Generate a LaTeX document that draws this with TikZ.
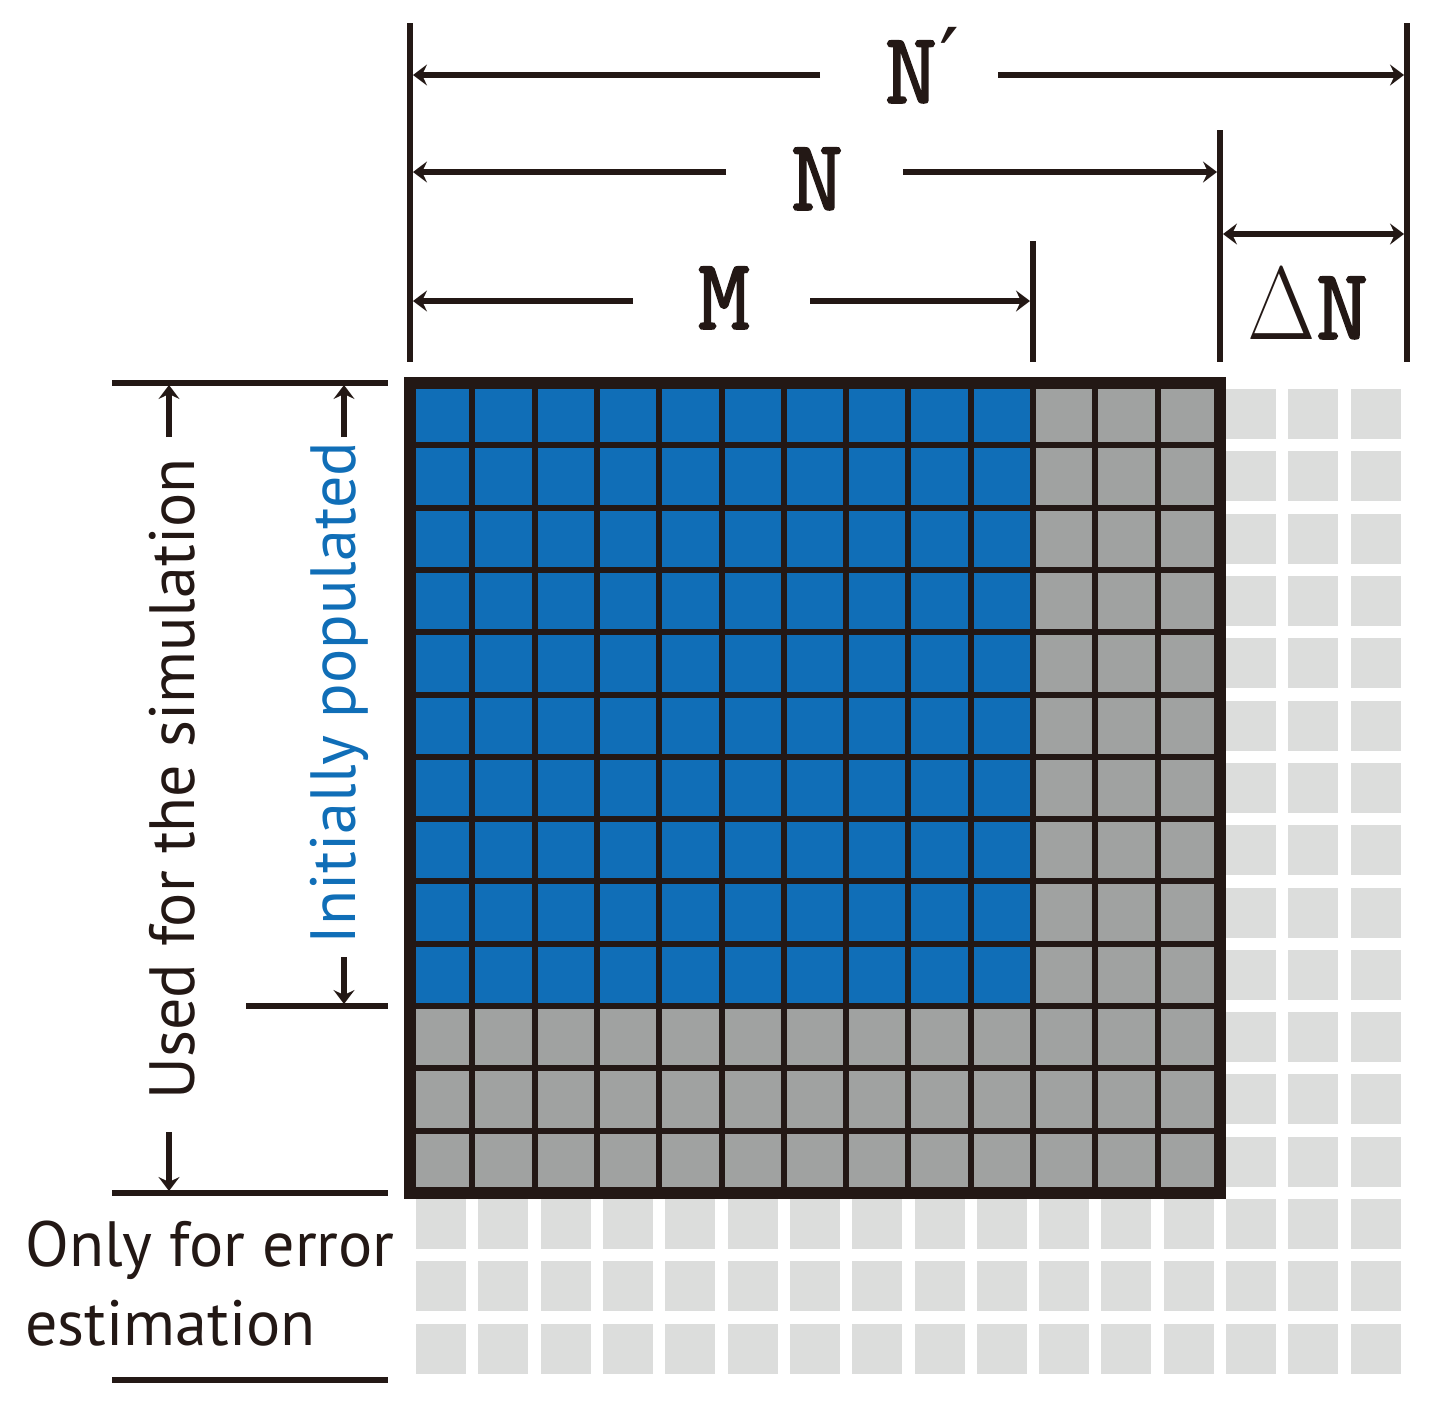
\documentclass[tikz,border=0pt]{standalone}
\usepackage{fontspec}
\usepackage{graphicx}
\usetikzlibrary{arrows.meta}
\newfontfamily\lblfont{PT Sans}
\newfontfamily\dimfont{Latin Modern Mono}[FakeBold=1.6]
\newfontfamily\deltafont{Latin Modern Roman}
\newfontfamily\primefont{DejaVu Sans}
\definecolor{inkdark}{HTML}{231815}
\definecolor{cellblue}{HTML}{106EB7}
\definecolor{cellgray}{HTML}{A0A2A1}
\definecolor{celllight}{HTML}{DCDDDC}
\tikzset{
  dimline/.style={line width=3.4pt, draw=inkdark},
  dimarrow/.style={line width=3pt, draw=inkdark, -{Stealth[length=7pt,width=10.5pt,inset=2.5pt]}},
  gridline/.style={line width=3pt, draw=inkdark},
  gridborder/.style={line width=6pt, draw=inkdark, line join=miter},
  dimlabel/.style={font=\dimfont\fontsize{51}{51}\selectfont, text=inkdark, inner sep=0pt, anchor=base},
  sidelabel/.style={font=\lblfont\fontsize{32}{39.5}\selectfont, inner sep=0pt},
}
\begin{document}
\begin{tikzpicture}[x=0.5pt,y=-0.5pt]
\useasboundingbox (0,0) rectangle (1439,1426);
\def\p{62.3}
% light cells (16 x 16)
\foreach \i in {0,...,15}{
  \foreach \j in {0,...,15}{
    \fill[celllight] ({410+\p*(\i+0.5)-25},{383+\p*(\j+0.5)-25}) rectangle ++(50,50);
  }
}
% main grid
\fill[cellgray] (410,383) rectangle ({410+13*\p},{383+13*\p});
\fill[cellblue] (410,383) rectangle ({410+10*\p},{383+10*\p});
\foreach \k in {1,...,12}{
  \draw[gridline] ({410+\k*\p},383) -- ({410+\k*\p},{383+13*\p});
  \draw[gridline] (410,{383+\k*\p}) -- ({410+13*\p},{383+\k*\p});
}
\draw[gridborder] (410,383) rectangle ({410+13*\p},{383+13*\p});

% top extension lines
\draw[dimline] (410,23) -- (410,362);
\draw[dimline] (1407,23) -- (1407,362);
\draw[dimline] (1220,130) -- (1220,362);
\draw[dimline] (1033,241) -- (1033,362);

% N'
\coordinate (npL) at (413,75); \coordinate (npLa) at (820,75);
\coordinate (npR) at (1404,75); \coordinate (npRa) at (998,75);
\draw[dimarrow] (npLa) -- (npL);
\draw[dimarrow] (npRa) -- (npR);
\node[dimlabel] (lblNp) at (922,103) {N\kern1pt\raisebox{6pt}{\primefont\fontsize{44}{44}\selectfont ′}};
% N
\coordinate (nL) at (413,172); \coordinate (nLa) at (726,172);
\coordinate (nR) at (1217,172); \coordinate (nRa) at (903,172);
\draw[dimarrow] (nLa) -- (nL);
\draw[dimarrow] (nRa) -- (nR);
\node[dimlabel] (lblN) at (817,210) {N};
% M
\coordinate (mL) at (413,301); \coordinate (mLa) at (633,301);
\coordinate (mR) at (1030,301); \coordinate (mRa) at (810,301);
\draw[dimarrow] (mLa) -- (mL);
\draw[dimarrow] (mRa) -- (mR);
\node[dimlabel] (lblM) at (724,329) {M};
% Delta N
\coordinate (dL) at (1223,234); \coordinate (dR) at (1404,234);
\draw[dimarrow, {Stealth[length=7pt,width=10.5pt,inset=2.5pt]}-{Stealth[length=7pt,width=10.5pt,inset=2.5pt]}] (dL) -- (dR);
\node[dimlabel] (lblDN) at (1308,339) {\scalebox{0.85}[1]{\deltafont\fontsize{52}{52}\selectfont Δ}N};

% left side lines
\draw[dimline] (112,383) -- (388,383);
\draw[dimline] (246,1006) -- (388,1006);
\draw[dimline] (112,1193) -- (388,1193);
\draw[dimline] (112,1380) -- (388,1380);
% left arrows
\coordinate (uTa) at (169,437); \coordinate (uT) at (169,385);
\coordinate (uBa) at (169,1132); \coordinate (uB) at (169,1191);
\coordinate (iTa) at (344,437); \coordinate (iT) at (344,385);
\coordinate (iBa) at (344,957); \coordinate (iB) at (344,1004);
\draw[dimarrow] (uTa) -- (uT);
\draw[dimarrow] (uBa) -- (uB);
\draw[dimarrow] (iTa) -- (iT);
\draw[dimarrow] (iBa) -- (iB);

% side labels
\node[sidelabel, text=inkdark, rotate=90, anchor=base] (lblUsed) at (194,779) {Used for the simulation};
\node[sidelabel, text=cellblue, rotate=90, anchor=base] (lblInit) at (355,693) {Initially populated};
\node[sidelabel, text=inkdark, anchor=base west] (lblOnly) at (25,1266) {Only for error};
\node[sidelabel, text=inkdark, anchor=base west] (lblEst) at (25,1345) {estimation};
\end{tikzpicture}
\end{document}
